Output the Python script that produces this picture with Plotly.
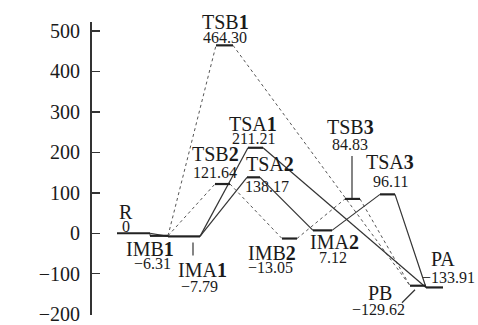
import plotly.graph_objects as go

# ---- data ----
states = ["R", "IMB1", "IMA1", "TSB1", "TSA1", "TSB2", "TSA2", "IMB2", "IMA2", "TSB3", "TSA3", "PB", "PA"]
energies = [0, -6.31, -7.79, 464.30, 211.21, 121.64, 138.17, -13.05, 7.12, 84.83, 96.11, -129.62, -133.91]
# reaction coordinate (start, end) of each level
rc_start = [117, 150, 168, 216, 248, 215, 247, 282, 313, 345, 380, 410, 426]
rc_end = [150, 168, 200, 233, 263, 230, 260, 297, 332, 360, 395, 426, 443]
path_a = [("R", "IMA1"), ("IMA1", "TSA1"), ("TSA1", "PA"), ("IMA1", "TSA2"), ("TSA2", "IMA2"),
          ("IMA2", "TSA3"), ("TSA3", "PA")]
path_b = [("R", "IMB1"), ("IMB1", "TSB1"), ("TSB1", "PB"), ("IMB1", "TSB2"), ("TSB2", "IMB2"),
          ("IMB2", "TSB3"), ("TSB3", "PB")]
y_ticks = [-200, -100, 0, 100, 200, 300, 400, 500]

FONT = "Liberation Serif"
idx = {s: i for i, s in enumerate(states)}

fig = go.Figure()

def connect(pairs, dash, color, width):
    xs, ys = [], []
    for a, b in pairs:
        i, j = idx[a], idx[b]
        xs += [rc_end[i], rc_start[j], None]
        ys += [energies[i], energies[j], None]
    fig.add_trace(go.Scatter(x=xs, y=ys, mode="lines", line=dict(color=color, width=width, dash=dash),
                             hoverinfo="skip", showlegend=False))

connect(path_b, "dot", "#555555", 1)
connect(path_a, "solid", "#333333", 1.2)

# levels
lx, ly = [], []
for i in range(len(states)):
    lx += [rc_start[i], rc_end[i], None]
    ly += [energies[i], energies[i], None]
fig.add_trace(go.Scatter(x=lx, y=ly, mode="lines", line=dict(color="#222222", width=2.2),
                         hoverinfo="skip", showlegend=False))

def fmt(v):
    if v == 0:
        return "0"
    s = f"{abs(v):.2f}"
    return ("\u2212" + s) if v < 0 else s

def name_html(s):
    if s[-1].isdigit():
        return s[:-1] + "<b>" + s[-1] + "</b>"
    return s

PX = 724 / 293.0  # energy units per pixel
label_pos = {
    # state: (x_name, dy_name_px, x_val, dy_val_px) dy measured downward from the level in pixels
    "R": (126, -21, 126, -7),
    "IMB1": (150, 13, 152, 28),
    "IMA1": (202, 34, 199, 50),
    "TSB1": (225, -23, 225, -8),
    "TSA1": (253, -24, 253, -9),
    "TSB2": (215, -30, 215, -12),
    "TSA2": (270, -13, 267, 9),
    "IMB2": (272, 14, 270, 29),
    "IMA2": (334, 12, 333, 27),
    "TSB3": (350, -72, 350, -54),
    "TSA3": (390, -32, 390, -13),
    "PB": (380, 7, 378, 24),
    "PA": (443, -28, 448, -10),
}
for s in states:
    i = idx[s]
    xn, dyn, xv, dyv = label_pos[s]
    y0 = energies[i]
    fig.add_annotation(x=xn, y=y0 - dyn * PX, text=name_html(s), showarrow=False,
                       font=dict(family=FONT, size=20, color="#1a1a1a"), xanchor="center", yanchor="middle")
    fig.add_annotation(x=xv, y=y0 - dyv * PX, text=fmt(y0), showarrow=False,
                       font=dict(family=FONT, size=16, color="#1a1a1a"), xanchor="center", yanchor="middle")

# leader lines
e = dict(zip(states, energies))
leaders = [
    (193, e["IMA1"] - 6 * PX, 193, e["IMA1"] - 19 * PX),
    (352, e["TSB3"] + 1 * PX, 352, e["TSB3"] + 43 * PX),
    (415, e["PB"] - 4 * PX, 402, e["PB"] - 17 * PX),
]
for x0, y0, x1, y1 in leaders:
    fig.add_shape(type="line", x0=x0, y0=y0, x1=x1, y1=y1, xref="x", yref="y",
                  line=dict(color="#333333", width=1.2))

# y-axis title
fig.add_annotation(x=25, y=150, xref="x", yref="y",
                   text="<i>E</i><sub>R</sub>/(kJ·mol<sup>\u22121</sup>)", textangle=-90,
                   showarrow=False, font=dict(family=FONT, size=18, color="#1a1a1a"))

fig.update_layout(
    width=478, height=325,
    margin=dict(l=92, r=0, t=22, b=10),
    plot_bgcolor="white", paper_bgcolor="white",
    xaxis=dict(range=[92, 478], visible=False, fixedrange=True),
    yaxis=dict(range=[-202, 522], tickvals=y_ticks,
               ticktext=[("\u2212" + str(-t)) if t < 0 else str(t) for t in y_ticks],
               ticks="inside", ticklen=8, tickwidth=1.5, tickcolor="#333333",
               showline=True, linewidth=2, linecolor="#333333", showgrid=False, zeroline=False,
               tickfont=dict(family=FONT, size=20, color="#1a1a1a"), ticklabelstandoff=6,
               ticklabeloverflow="allow", fixedrange=True),
    showlegend=False,
)
fig.write_html("out.html", config={"displayModeBar": False, "staticPlot": True},
               post_script="document.body.style.margin='0';document.body.style.overflow='hidden';")
